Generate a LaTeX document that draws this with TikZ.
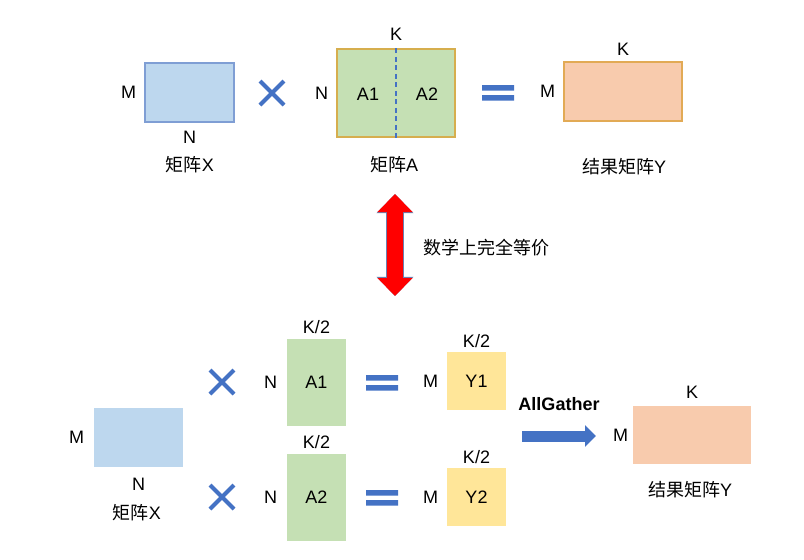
\documentclass[tikz,border=0pt]{standalone}
\usepackage{fontspec}
\setmainfont{Liberation Sans}
\newfontfamily\cjk{Noto Sans CJK SC}
\usetikzlibrary{arrows.meta,positioning}
\definecolor{opblue}{HTML}{4472C4}
\definecolor{xfill}{HTML}{BDD7EE}
\definecolor{xedge}{HTML}{7F9ED4}
\definecolor{afill}{HTML}{C5E0B4}
\definecolor{aedge}{HTML}{D6AE4E}
\definecolor{yfill}{HTML}{F8CBAD}
\definecolor{yedge}{HTML}{E2AA55}
\definecolor{partfill}{HTML}{FFE699}
\definecolor{eqedge}{HTML}{6A80B0}
\newcommand{\diagfont}{\fontsize{18}{21}\selectfont}
\newcommand{\capfont}{\fontsize{18}{22}\selectfont}
% blue operator signs
\newcommand{\mulsign}[1]{\draw[opline] #1 ++(-12,-12) -- ++(24,24) #1 ++(-12,12) -- ++(24,-24);}
\newcommand{\eqsign}[1]{\fill[opblue] #1 ++(-16,-8) rectangle ++(32,5.5) #1 ++(-16,2) rectangle ++(32,5.5);}
\tikzset{
  every picture/.append style={font=\diagfont},
  mat/.style      = {inner sep=0pt, line width=1.2pt},
  matx/.style     = {mat, fill=xfill, draw=xedge, minimum width=89pt, minimum height=59pt},
  matxb/.style    = {mat, fill=xfill, minimum width=89pt, minimum height=59pt},
  mata/.style     = {mat, fill=afill, draw=aedge, minimum width=118pt, minimum height=88pt},
  matahalf/.style = {mat, fill=afill, minimum width=59pt, minimum height=87pt},
  maty/.style     = {mat, fill=yfill, draw=yedge, minimum width=118pt, minimum height=59pt},
  matyb/.style    = {mat, fill=yfill, minimum width=118pt, minimum height=58pt},
  matpart/.style  = {mat, fill=partfill, minimum width=59pt, minimum height=58pt},
  lab/.style      = {inner sep=0pt},
  captxt/.style   = {font=\capfont, inner sep=0pt},
  opline/.style   = {draw=opblue, line width=4pt},
  splitline/.style= {draw=opblue, line width=1.3pt, dash pattern=on 5pt off 3.5pt},
  eqarrow/.style  = {draw=red, line width=16pt,
                     {Triangle[width=34pt,length=18pt]}-{Triangle[width=34pt,length=18pt]}},
  eqarrowedge/.style = {draw=eqedge, line width=17.4pt,
                     {Triangle[width=36pt,length=19.2pt]}-{Triangle[width=36pt,length=19.2pt]}},
  gatherarrow/.style = {draw=opblue, line width=11pt, -{Triangle[width=21pt,length=11pt]}},
}

\begin{document}
\begin{tikzpicture}[x=1pt,y=-1pt]
  \useasboundingbox (0,0) rectangle (804,560);

  % top: X times A = Y
  \node[matx] (X) at (189.5,92.5) {};
  \node[lab, left=8pt of X] {M};
  \node[lab, below=8pt of X] {N};
  \node[captxt] at (190,165) {{\cjk 矩阵}X};

  \mulsign{(272,93)}

  \node[mata] (A) at (396,93) {};
  \draw[splitline] (A.north) -- (A.south);
  \node[lab, above=8pt of A] {K};
  \node[lab, left=8pt of A] {N};
  \node[lab] (a1) at (368,94) {A1};
  \node[lab] (a2) at (427,94) {A2};
  \node[captxt] at (394,165) {{\cjk 矩阵}A};

  \eqsign{(498,93)}

  \node[maty] (Y) at (623,91.5) {};
  \node[lab, above=6pt of Y] {K};
  \node[lab, left=8pt of Y] {M};
  \node[captxt] at (624,167) {{\cjk 结果矩阵}Y};

  % equivalence arrow
  \coordinate (eqTop) at (395,194);
  \coordinate (eqBot) at (395,296);
  \draw[eqarrowedge] (eqTop) -- (eqBot);
  \draw[eqarrow] (eqTop) -- (eqBot);
  \node[captxt] (eqtxt) at (486.5,248) {\cjk 数学上完全等价};

  % bottom: split along K
  \node[matxb] (Xb) at (138.5,437.5) {};
  \node[lab, left=9pt of Xb] {M};
  \node[lab, below=10pt of Xb] {N};
  \node[captxt] at (137,513) {{\cjk 矩阵}X};

  \mulsign{(222,382)}
  \mulsign{(222,497)}

  \node[matahalf] (A1) at (316.5,382.5) {};
  \node[lab] at (A1) {A1};
  \node[lab, above=5pt of A1] {K/2};
  \node[lab, left=9pt of A1] {N};

  \node[matahalf] (A2) at (316.5,497.5) {};
  \node[lab] at (A2) {A2};
  \node[lab, above=5pt of A2] {K/2};
  \node[lab, left=9pt of A2] {N};

  \eqsign{(382,383)}
  \eqsign{(382,498)}

  \node[matpart] (Y1) at (476.5,381) {};
  \node[lab] at (Y1) {Y1};
  \node[lab, above=4pt of Y1] {K/2};
  \node[lab, left=8pt of Y1] {M};

  \node[matpart] (Y2) at (476.5,497) {};
  \node[lab] at (Y2) {Y2};
  \node[lab, above=4pt of Y2] {K/2};
  \node[lab, left=8pt of Y2] {M};

  \coordinate (agStart) at (522,436);
  \coordinate (agEnd) at (596,436);
  \draw[gatherarrow] (agStart) -- node[lab, above=20pt, font=\diagfont\bfseries] {AllGather} (agEnd);

  \node[matyb] (R) at (692,435) {};
  \node[lab, above=7pt of R] {K};
  \node[lab, left=4pt of R] {M};
  \node[captxt] at (690,490) {{\cjk 结果矩阵}Y};
\end{tikzpicture}
\end{document}
